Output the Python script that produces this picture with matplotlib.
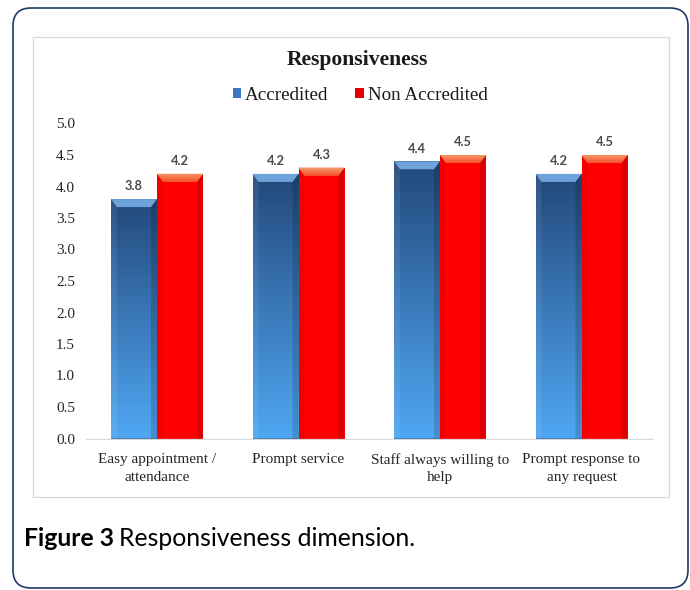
import matplotlib
matplotlib.use("Agg")
import numpy as np
import matplotlib.pyplot as plt
from matplotlib.patches import FancyBboxPatch, Rectangle, Polygon
from matplotlib.colors import LinearSegmentedColormap
from matplotlib.transforms import Affine2D
from matplotlib.font_manager import FontProperties

# ---- data -------------------------------------------------------------
categories = ["Easy appointment /\nattendance", "Prompt service",
              "Staff always willing to\nhelp", "Prompt response to\nany request"]
series_names = ["Accredited", "Non Accredited"]
accredited = [3.8, 4.2, 4.4, 4.2]
non_accredited = [4.2, 4.3, 4.5, 4.5]
yticks = [0.0, 0.5, 1.0, 1.5, 2.0, 2.5, 3.0, 3.5, 4.0, 4.5, 5.0]

# ---- canvas (work in pixel units, origin bottom-left) -----------------
W, H = 690, 590
DPI = 100
fig = plt.figure(figsize=(W / DPI, H / DPI), dpi=DPI)
fig.patch.set_facecolor("white")
px = Affine2D().scale(1.0 / W, 1.0 / H) + fig.transFigure

SERIF = "Liberation Serif"
SANS = "Lato"

# rounded outer panel
fig.add_artist(FancyBboxPatch((13, 2), 675, 580,
                              boxstyle="round,pad=0,rounding_size=18",
                              transform=px, facecolor="white",
                              edgecolor="#1f3a68", linewidth=1.2, zorder=-2))
# chart frame
fig.add_artist(Rectangle((33, 93), 636, 460, transform=px, facecolor="white",
                         edgecolor="#d9d9d9", linewidth=0.9, zorder=-1))

# ---- axes -------------------------------------------------------------
group_px = 141.5          # pixel distance between category centres
ax_left, ax_zero, ax_h = 86.25, 438.5, 315.0
ax = fig.add_axes([ax_left / W, (H - ax_zero) / H, 4 * group_px / W, ax_h / H])
ax.set_zorder(2)
ax.patch.set_alpha(0)

x = np.arange(len(categories))
bw = 46 / group_px

bars_a = ax.bar(x - bw / 2, accredited, bw, color="#3470b0", linewidth=0, zorder=2)
bars_n = ax.bar(x + bw / 2, non_accredited, bw, color="#fe0000", linewidth=0, zorder=2)

ax.set_xlim(-0.5, 3.5)
ax.set_ylim(0, 5)

# bevel size in data units (about 6 px across, 8 px down)
dx = 6 / group_px
dy = 8 * 5 / ax_h

blue_grad = LinearSegmentedColormap.from_list(
    "blue_grad", [(0, "#4fa7f2"), (0.5, "#3a78b8"), (1, "#22487a")])
red_top = LinearSegmentedColormap.from_list("red_top", [(0, "#f4502a"), (1, "#f59868")])
grad = np.linspace(0, 1, 256).reshape(-1, 1)


def bevel(rect, top_col, left_col, left_a, right_col, right_a, top_cmap=None):
    x0, w, h = rect.get_x(), rect.get_width(), rect.get_height()
    x1 = x0 + w
    top = Polygon([(x0, h), (x1, h), (x1 - dx, h - dy), (x0 + dx, h - dy)],
                  closed=True, facecolor=top_col, edgecolor="none", zorder=4)
    ax.add_patch(top)
    if top_cmap is not None:
        im = ax.imshow(grad, cmap=top_cmap, origin="lower", aspect="auto",
                       extent=[x0, x1, h - dy, h], zorder=4.1)
        im.set_clip_path(top)
    ax.add_patch(Polygon([(x0, h), (x0 + dx, h - dy), (x0 + dx, 0), (x0, 0)],
                         closed=True, facecolor=left_col, alpha=left_a,
                         edgecolor="none", zorder=4.2))
    ax.add_patch(Polygon([(x1, h), (x1 - dx, h - dy), (x1 - dx, 0), (x1, 0)],
                         closed=True, facecolor=right_col, alpha=right_a,
                         edgecolor="none", zorder=4.2))


for r in bars_a:
    x0, w, h = r.get_x(), r.get_width(), r.get_height()
    im = ax.imshow(grad, cmap=blue_grad, origin="lower", aspect="auto",
                   extent=[x0, x0 + w, 0, h], zorder=3)
    im.set_clip_path(r)
    bevel(r, "#6ea2da", "white", 0.07, "black", 0.14)

for r in bars_n:
    bevel(r, "#f26c42", "black", 0.05, "#7a0000", 0.25, top_cmap=red_top)

ax.set_xlim(-0.5, 3.5)
ax.set_ylim(0, 5)

# value labels
for rects, vals in ((bars_a, accredited), (bars_n, non_accredited)):
    for r, v in zip(rects, vals):
        ax.annotate(f"{v:.1f}", (r.get_x() + r.get_width() / 2, v),
                    xytext=(0, 9.2), textcoords="offset points",
                    ha="center", va="center", fontsize=9.3, fontweight="bold",
                    family=SANS, color="#4a4a4a", zorder=5)

# axes styling
ax.set_yticks(yticks)
ax.set_yticklabels([f"{t:.1f}" for t in yticks], family=SERIF, fontsize=11,
                   color="#262626")
ax.set_xticks(x)
ax.set_xticklabels(categories, family=SERIF, fontsize=11, color="#262626",
                   linespacing=1.45)
ax.tick_params(axis="y", length=0, pad=8)
ax.tick_params(axis="x", length=0, pad=10.5)
for s in ("top", "left", "right"):
    ax.spines[s].set_visible(False)
ax.spines["bottom"].set_color("#d9d9d9")
ax.spines["bottom"].set_linewidth(0.9)

# title and legend
fig.text(357 / W, 1 - 60 / H, "Responsiveness", ha="center", va="center",
         family=SERIF, fontweight="bold", fontsize=15.6, color="#1a1a1a")

handles = [Rectangle((0, 0), 1, 1, facecolor="#3b78c0", edgecolor="none"),
           Rectangle((0, 0), 1, 1, facecolor="#e60000", edgecolor="none")]
fig.legend(handles, series_names, loc="center",
           bbox_to_anchor=(360 / W, 1 - 95 / H), ncol=2, frameon=False,
           prop=FontProperties(family=SERIF, size=13.7),
           handlelength=0.45, handleheight=0.45, handletextpad=0.2,
           columnspacing=1.4, borderpad=0, labelcolor="#1a1a1a")

# caption
cap_y = 1 - 539 / H
t1 = fig.text(24 / W, cap_y, "Figure 3", ha="left", va="center", family=SANS,
              fontweight="bold", fontsize=17.8, color="black")
fig.canvas.draw()
bb = t1.get_window_extent()
fig.text((bb.x1 + 5) / W, cap_y, "Responsiveness dimension.", ha="left",
         va="center", family=SANS, fontsize=17.8, color="black")

fig.savefig("out.png", dpi=DPI, facecolor="white")
